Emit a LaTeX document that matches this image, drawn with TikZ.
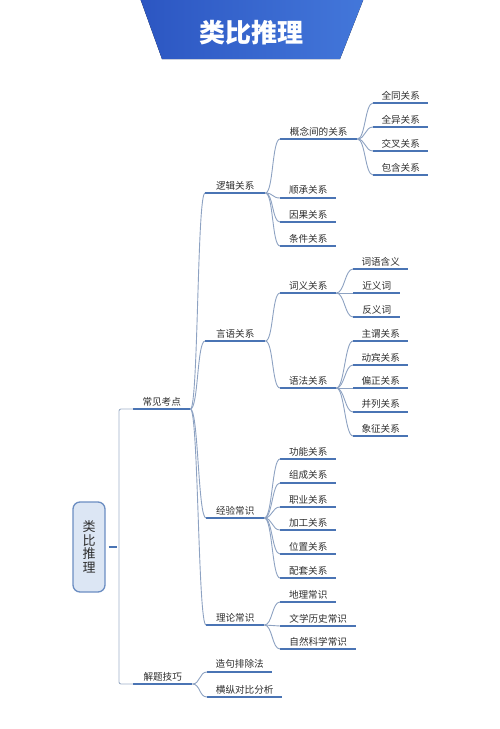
\documentclass[tikz,border=0pt]{standalone}
\usepackage{fontspec}
\setmainfont{Noto Sans CJK SC}
\definecolor{ulc}{HTML}{4A74B4}
\definecolor{cnc}{HTML}{8DA2C2}
\definecolor{brc}{HTML}{9FB0C8}
\definecolor{txc}{HTML}{2E2E2E}
\definecolor{rootfill}{HTML}{DCE6F4}
\definecolor{rootdraw}{HTML}{6B8DC2}
\definecolor{bannerL}{HTML}{2C56C2}
\definecolor{bannerR}{HTML}{4377DA}
\begin{document}
\begin{tikzpicture}[x=1pt,y=-1pt,
  lbl/.style={anchor=south west, inner xsep=0pt, inner ysep=3pt, minimum width=#1,
    text=txc, font=\fontsize{9.6}{10}\selectfont,
    append after command={(\tikzlastnode.south west) edge[draw=ulc, line width=1.8pt] (\tikzlastnode.south east)}},
  connline/.style={draw=cnc, line width=0.9pt},
  bracketline/.style={draw=brc, line width=0.9pt},
  rootbox/.style={draw=rootdraw, line width=1.3pt, fill=rootfill, rounded corners=7pt,
    minimum width=32pt, minimum height=90pt, inner sep=0pt, align=center,
    font=\fontsize{13}{13.6}\selectfont, text=txc},
  titletext/.style={font=\fontsize{26}{26}\selectfont\bfseries, text=white}
]
\useasboundingbox (0,0) rectangle (500,729);
% banner
\fill[left color=bannerL, right color=bannerR] (140,-2) -- (364,-2) -- (340,59) -- (162,59) -- cycle;
\node[titletext] (title) at (251,33) {类比推理};
% root
\node[rootbox] (root) at (89,547) {类\\比\\推\\理};
% connectors (drawn first, under the underlines)
\coordinate (br) at (119,547);
% level 1
\node[lbl=57pt] (cj) at (133,409) {常见考点};
\node[lbl=59pt] (jt) at (133,684) {解题技巧};
% level 2
\node[lbl=60pt] (lj) at (205,193) {逻辑关系};
\node[lbl=60pt] (yy) at (205,341) {言语关系};
\node[lbl=58pt] (jy) at (206,518) {经验常识};
\node[lbl=58pt] (ll) at (206,625) {理论常识};
% level 3
\node[lbl=77pt] (gn) at (280,139) {概念间的关系};
\node[lbl=56pt] (sc) at (280,198) {顺承关系};
\node[lbl=56pt] (yg) at (280,222) {因果关系};
\node[lbl=56pt] (tj) at (280,246) {条件关系};
\node[lbl=56pt] (cy) at (280,293) {词义关系};
\node[lbl=56pt] (yf) at (280,388) {语法关系};
\node[lbl=56pt] (gnr) at (280,459) {功能关系};
\node[lbl=56pt] (zc) at (280,483) {组成关系};
\node[lbl=56pt] (zy) at (280,507) {职业关系};
\node[lbl=56pt] (jg) at (280,530) {加工关系};
\node[lbl=56pt] (wz) at (280,554) {位置关系};
\node[lbl=56pt] (pt) at (280,578) {配套关系};
\node[lbl=56pt] (dl) at (280,602) {地理常识};
\node[lbl=76pt] (wx) at (280,626) {文学历史常识};
\node[lbl=76pt] (zr) at (280,649) {自然科学常识};
\node[lbl=65pt] (zj) at (207,672) {造句排除法};
\node[lbl=75pt] (hz) at (207,697) {横纵对比分析};
% level 4
\node[lbl=55pt] (qt) at (373,103) {全同关系};
\node[lbl=55pt] (qy) at (373,127) {全异关系};
\node[lbl=55pt] (jc) at (373,151) {交叉关系};
\node[lbl=55pt] (bh) at (373,175) {包含关系};
\node[lbl=55pt] (cyh) at (353,269) {词语含义};
\node[lbl=47pt] (jyc) at (353,293) {近义词};
\node[lbl=47pt] (fyc) at (353,317) {反义词};
\node[lbl=55pt] (zw) at (353,341) {主谓关系};
\node[lbl=55pt] (db) at (353,365) {动宾关系};
\node[lbl=55pt] (pz) at (353,388) {偏正关系};
\node[lbl=55pt] (bl) at (353,412) {并列关系};
\node[lbl=55pt] (xz) at (353,436) {象征关系};
% root bracket
\draw[draw=ulc, line width=1.8pt] ([xshift=3pt]root.east) -- ([xshift=-2pt]br);
\draw[bracketline, rounded corners=2pt] (br) |- (cj.south west);
\draw[bracketline, rounded corners=2pt] (br) |- (jt.south west);
% connectors
\foreach \p/\c in {cj/lj, cj/yy, cj/jy, cj/ll,
  lj/gn, lj/sc, lj/yg, lj/tj,
  gn/qt, gn/qy, gn/jc, gn/bh,
  yy/cy, yy/yf,
  cy/cyh, cy/jyc, cy/fyc,
  yf/zw, yf/db, yf/pz, yf/bl, yf/xz,
  jy/gnr, jy/zc, jy/zy, jy/jg, jy/wz, jy/pt,
  ll/dl, ll/wx, ll/zr,
  jt/zj, jt/hz}
  \draw[connline] (\p.south east) .. controls +(8,0) and +(-8,0) .. (\c.south west);
\end{tikzpicture}
\end{document}
